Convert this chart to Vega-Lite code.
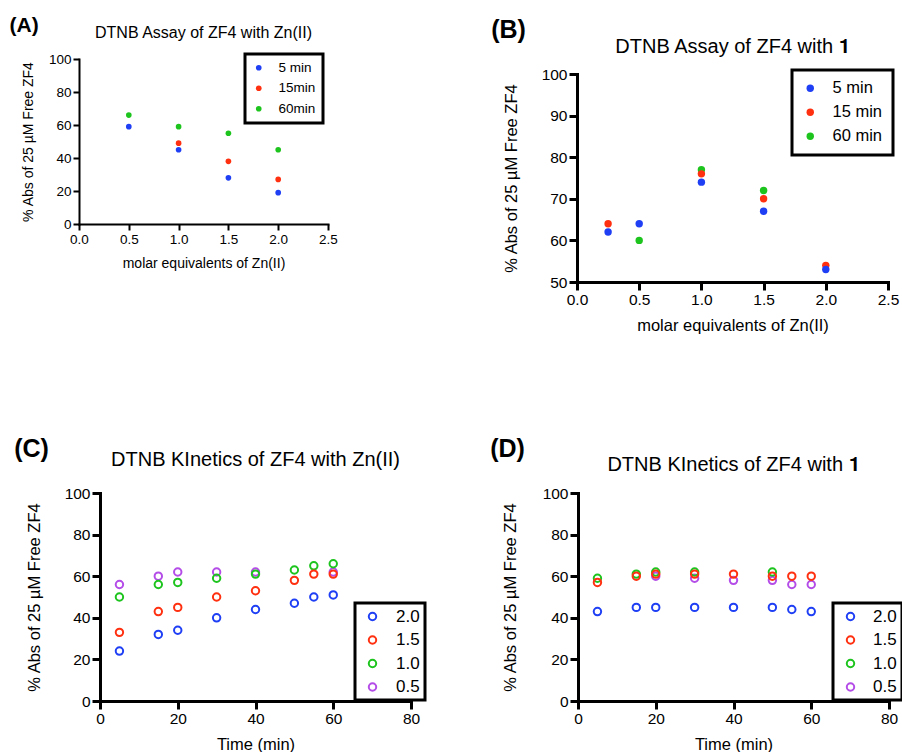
{
 "$schema": "https://vega.github.io/schema/vega-lite/v6.json",
 "padding": {"left": 9, "top": 15, "right": 0, "bottom": 0},
 "columns": 1,
 "align": "none",
 "spacing": 103,
 "resolve": {"scale": {"color": "independent", "x": "independent", "y": "independent"}, "legend": {"color": "independent"}},
 "config": {
  "font": "Liberation Sans",
  "view": {"stroke": null},
  "title": {"color": "black", "fontWeight": "normal", "font": "Liberation Sans"},
  "axis": {
   "grid": false, "domainColor": "black", "tickColor": "black", "labelColor": "black", "titleColor": "black",
   "titleFontWeight": "normal", "domainWidth": 3, "tickWidth": 3, "tickSize": 8, "labelFontSize": 15.5,
   "titleFontSize": 16.5, "labelPadding": 2, "titlePadding": 10, "labelFlush": false, "labelOverlap": false,
   "domainCap": "square"
  },
  "legend": {"labelColor": "black", "labelFont": "Liberation Sans", "strokeWidth": 3}
 },
 "datasets": {
  "A": [
   {"eq": 0.5, "pct": 66, "time": "60min"}, {"eq": 1.0, "pct": 59, "time": "60min"}, {"eq": 1.5, "pct": 55, "time": "60min"}, {"eq": 2.0, "pct": 45, "time": "60min"},
   {"eq": 1.0, "pct": 49, "time": "15min"}, {"eq": 1.5, "pct": 38, "time": "15min"}, {"eq": 2.0, "pct": 27, "time": "15min"},
   {"eq": 0.5, "pct": 59, "time": "5 min"}, {"eq": 1.0, "pct": 45, "time": "5 min"}, {"eq": 1.5, "pct": 28, "time": "5 min"}, {"eq": 2.0, "pct": 19, "time": "5 min"}
  ],
  "B": [
   {"eq": 0.5, "pct": 60, "time": "60 min"}, {"eq": 1.0, "pct": 77, "time": "60 min"}, {"eq": 1.5, "pct": 72, "time": "60 min"},
   {"eq": 0.25, "pct": 64, "time": "15 min"}, {"eq": 1.0, "pct": 76, "time": "15 min"}, {"eq": 1.5, "pct": 70, "time": "15 min"}, {"eq": 2.0, "pct": 54, "time": "15 min"},
   {"eq": 0.25, "pct": 62, "time": "5 min"}, {"eq": 0.5, "pct": 64, "time": "5 min"}, {"eq": 1.0, "pct": 74, "time": "5 min"}, {"eq": 1.5, "pct": 67, "time": "5 min"}, {"eq": 2.0, "pct": 53, "time": "5 min"}
  ],
  "C": [
   {"t": 5, "pct": 56, "ratio": "0.5"}, {"t": 15, "pct": 60, "ratio": "0.5"}, {"t": 20, "pct": 62, "ratio": "0.5"}, {"t": 30, "pct": 62, "ratio": "0.5"}, {"t": 40, "pct": 62, "ratio": "0.5"}, {"t": 60, "pct": 62, "ratio": "0.5"},
   {"t": 5, "pct": 50, "ratio": "1.0"}, {"t": 15, "pct": 56, "ratio": "1.0"}, {"t": 20, "pct": 57, "ratio": "1.0"}, {"t": 30, "pct": 59, "ratio": "1.0"}, {"t": 40, "pct": 61, "ratio": "1.0"}, {"t": 50, "pct": 63, "ratio": "1.0"}, {"t": 55, "pct": 65, "ratio": "1.0"}, {"t": 60, "pct": 66, "ratio": "1.0"},
   {"t": 5, "pct": 33, "ratio": "1.5"}, {"t": 15, "pct": 43, "ratio": "1.5"}, {"t": 20, "pct": 45, "ratio": "1.5"}, {"t": 30, "pct": 50, "ratio": "1.5"}, {"t": 40, "pct": 53, "ratio": "1.5"}, {"t": 50, "pct": 58, "ratio": "1.5"}, {"t": 55, "pct": 61, "ratio": "1.5"}, {"t": 60, "pct": 61, "ratio": "1.5"},
   {"t": 5, "pct": 24, "ratio": "2.0"}, {"t": 15, "pct": 32, "ratio": "2.0"}, {"t": 20, "pct": 34, "ratio": "2.0"}, {"t": 30, "pct": 40, "ratio": "2.0"}, {"t": 40, "pct": 44, "ratio": "2.0"}, {"t": 50, "pct": 47, "ratio": "2.0"}, {"t": 55, "pct": 50, "ratio": "2.0"}, {"t": 60, "pct": 51, "ratio": "2.0"}
  ],
  "D": [
   {"t": 20, "pct": 60, "ratio": "0.5"}, {"t": 30, "pct": 59, "ratio": "0.5"}, {"t": 40, "pct": 58, "ratio": "0.5"}, {"t": 50, "pct": 58, "ratio": "0.5"}, {"t": 55, "pct": 56, "ratio": "0.5"}, {"t": 60, "pct": 56, "ratio": "0.5"},
   {"t": 5, "pct": 59, "ratio": "1.0"}, {"t": 15, "pct": 61, "ratio": "1.0"}, {"t": 20, "pct": 62, "ratio": "1.0"}, {"t": 30, "pct": 62, "ratio": "1.0"}, {"t": 50, "pct": 62, "ratio": "1.0"},
   {"t": 5, "pct": 57, "ratio": "1.5"}, {"t": 15, "pct": 60, "ratio": "1.5"}, {"t": 20, "pct": 61, "ratio": "1.5"}, {"t": 30, "pct": 61, "ratio": "1.5"}, {"t": 40, "pct": 61, "ratio": "1.5"}, {"t": 50, "pct": 60, "ratio": "1.5"}, {"t": 55, "pct": 60, "ratio": "1.5"}, {"t": 60, "pct": 60, "ratio": "1.5"},
   {"t": 5, "pct": 43, "ratio": "2.0"}, {"t": 15, "pct": 45, "ratio": "2.0"}, {"t": 20, "pct": 45, "ratio": "2.0"}, {"t": 30, "pct": 45, "ratio": "2.0"}, {"t": 40, "pct": 45, "ratio": "2.0"}, {"t": 50, "pct": 45, "ratio": "2.0"}, {"t": 55, "pct": 44, "ratio": "2.0"}, {"t": 60, "pct": 43, "ratio": "2.0"}
  ]
 },
 "concat": [
  {
   "columns": 2,
   "align": "none",
   "spacing": 142,
   "resolve": {"scale": {"color": "independent", "x": "independent", "y": "independent"}, "legend": {"color": "independent"}},
   "concat": [
    {
     "title": {"text": "(A)", "anchor": "start", "fontSize": 21, "fontWeight": "bold", "offset": -11, "dx": -12},
     "vconcat": [{
      "width": 228, "height": 165,
      "title": {"text": "DTNB Assay of ZF4 with Zn(II)", "fontSize": 16, "anchor": "middle", "frame": "group", "offset": 11, "dx": -10.5},
      "data": {"name": "A"},
      "mark": {"type": "circle", "size": 32, "opacity": 1},
      "encoding": {
       "x": {"field": "eq", "type": "quantitative", "scale": {"domain": [0, 2.5], "nice": false, "range": [-21, 228]},
        "axis": {"values": [0, 0.5, 1, 1.5, 2, 2.5], "format": ".1f", "title": "molar equivalents of Zn(II)", "domainWidth": 2, "tickWidth": 2, "tickSize": 6, "labelFontSize": 13.5, "titleFontSize": 14, "titlePadding": 11}},
       "y": {"field": "pct", "type": "quantitative", "scale": {"domain": [0, 100], "nice": false},
        "axis": {"values": [0, 20, 40, 60, 80, 100], "title": "% Abs of 25 µM Free ZF4", "offset": 21, "domainWidth": 2, "tickWidth": 2, "tickSize": 6, "labelFontSize": 13.5, "titleFontSize": 14, "titlePadding": 13}},
       "color": {"field": "time", "type": "nominal",
        "scale": {"domain": ["5 min", "15min", "60min"], "range": ["#1f3ff5", "#ff3010", "#1ec41e"]},
        "legend": {"title": null, "orient": "none", "legendX": 145, "legendY": -5, "labelFontSize": 13.5, "symbolSize": 32, "rowPadding": 5.5, "labelOffset": 13, "padding": 7, "strokeColor": "black", "fillColor": "white", "symbolType": "circle",
         "encode": {"legend": {"update": {"strokeWidth": {"value": 2}}}}}}
      }
     }]
    },
    {
     "title": {"text": "(B)", "anchor": "start", "fontSize": 25, "fontWeight": "bold", "offset": -6, "dx": -12},
     "vconcat": [{
      "width": 311, "height": 223,
      "title": {"text": "DTNB Assay of ZF4 with 𝟏", "fontSize": 20, "anchor": "middle", "frame": "group", "offset": 2},
      "data": {"name": "B"},
      "mark": {"type": "circle", "size": 55, "opacity": 1},
      "encoding": {
       "x": {"field": "eq", "type": "quantitative", "scale": {"domain": [0, 2.5], "nice": false},
        "axis": {"values": [0, 0.5, 1, 1.5, 2, 2.5], "format": ".1f", "title": "molar equivalents of Zn(II)"}},
       "y": {"field": "pct", "type": "quantitative", "scale": {"domain": [50, 100], "nice": false, "zero": false, "range": [223, 15]},
        "axis": {"values": [50, 60, 70, 80, 90, 100], "title": "% Abs of 25 µM Free ZF4", "titlePadding": 22}},
       "color": {"field": "time", "type": "nominal",
        "scale": {"domain": ["5 min", "15 min", "60 min"], "range": ["#1f3ff5", "#ff3010", "#1ec41e"]},
        "legend": {"title": null, "orient": "none", "legendX": 215, "legendY": 11, "labelFontSize": 16.5, "symbolSize": 55, "rowPadding": 7, "labelOffset": 14, "padding": 10, "strokeColor": "black", "fillColor": "white", "symbolType": "circle",
         "encode": {"legend": {"update": {"strokeWidth": {"value": 3}}}}}}
      }
     }]
    }
   ]
  },
  {
   "columns": 2,
   "align": "none",
   "spacing": 63,
   "resolve": {"scale": {"color": "independent", "x": "independent", "y": "independent"}, "legend": {"color": "independent"}},
   "concat": [
    {
     "title": {"text": "(C)", "anchor": "start", "fontSize": 25, "fontWeight": "bold", "offset": -12, "dx": -12},
     "vconcat": [{
      "width": 311, "height": 208,
      "title": {"text": "DTNB KInetics of ZF4 with Zn(II)", "fontSize": 20, "anchor": "middle", "frame": "group", "offset": 16},
      "data": {"name": "C"},
      "mark": {"type": "point", "shape": "circle", "filled": false, "size": 55, "strokeWidth": 2, "opacity": 1},
      "encoding": {
       "x": {"field": "t", "type": "quantitative", "scale": {"domain": [0, 80], "nice": false},
        "axis": {"values": [0, 20, 40, 60, 80], "title": "Time (min)"}},
       "y": {"field": "pct", "type": "quantitative", "scale": {"domain": [0, 100], "nice": false},
        "axis": {"values": [0, 20, 40, 60, 80, 100], "title": "% Abs of 25 µM Free ZF4", "titlePadding": 22}},
       "color": {"field": "ratio", "type": "nominal",
        "scale": {"domain": ["2.0", "1.5", "1.0", "0.5"], "range": ["#1f3ff5", "#ff3010", "#1ec41e", "#b44ce8"]},
        "legend": {"title": null, "orient": "none", "legendX": 255, "legendY": 110, "labelFontSize": 17, "symbolSize": 55, "symbolStrokeWidth": 2, "rowPadding": 5.5, "labelOffset": 15, "padding": 5, "symbolOffset": 4, "strokeColor": "black", "fillColor": "white", "symbolType": "circle",
         "encode": {"legend": {"update": {"strokeWidth": {"value": 3}}}}}}
      }
     }]
    },
    {
     "title": {"text": "(D)", "anchor": "start", "fontSize": 25, "fontWeight": "bold", "offset": -7, "dx": -12},
     "vconcat": [{
      "width": 311, "height": 208,
      "title": {"text": "DTNB KInetics of ZF4 with 𝟏", "fontSize": 20, "anchor": "middle", "frame": "group", "offset": 11},
      "data": {"name": "D"},
      "mark": {"type": "point", "shape": "circle", "filled": false, "size": 55, "strokeWidth": 2, "opacity": 1},
      "encoding": {
       "x": {"field": "t", "type": "quantitative", "scale": {"domain": [0, 80], "nice": false},
        "axis": {"values": [0, 20, 40, 60, 80], "title": "Time (min)"}},
       "y": {"field": "pct", "type": "quantitative", "scale": {"domain": [0, 100], "nice": false},
        "axis": {"values": [0, 20, 40, 60, 80, 100], "title": "% Abs of 25 µM Free ZF4", "titlePadding": 24}},
       "color": {"field": "ratio", "type": "nominal",
        "scale": {"domain": ["2.0", "1.5", "1.0", "0.5"], "range": ["#1f3ff5", "#ff3010", "#1ec41e", "#b44ce8"]},
        "legend": {"title": null, "orient": "none", "legendX": 255, "legendY": 110, "labelFontSize": 17, "symbolSize": 55, "symbolStrokeWidth": 2, "rowPadding": 5.5, "labelOffset": 14, "padding": 5, "symbolOffset": 4, "strokeColor": "black", "fillColor": "white", "symbolType": "circle",
         "encode": {"legend": {"update": {"strokeWidth": {"value": 3}}}}}}
      }
     }]
    }
   ]
  }
 ]
}
